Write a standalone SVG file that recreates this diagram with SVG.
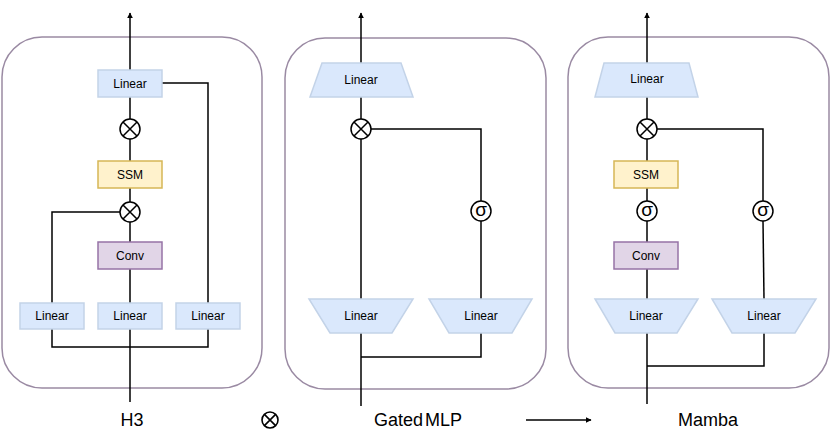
<svg xmlns="http://www.w3.org/2000/svg" width="830" height="444" viewBox="0 0 830 444">
<defs>
<marker id="arr" viewBox="0 0 10 10" refX="9" refY="5" markerWidth="6" markerHeight="6" orient="auto" markerUnits="userSpaceOnUse">
<path d="M0,0 L10,5 L0,10 z" fill="#000"/>
</marker>
<g id="otimes">
<circle cx="0" cy="0" r="10" fill="#fff" stroke="#000" stroke-width="1.5"/>
<path d="M-7,-7 L7,7 M-7,7 L7,-7" stroke="#000" stroke-width="1.5"/>
</g>
</defs>
<style>
.panel{fill:#fff;stroke:#9a8aa3;stroke-width:1.5}
.lin{fill:#dae8fc;stroke:#c3d3e8;stroke-width:1.5}
.ssm{fill:#fff2cc;stroke:#d6b656;stroke-width:1.5}
.conv{fill:#e1d5e7;stroke:#9673a6;stroke-width:1.5}
.t{font-family:"Liberation Sans",Arial,sans-serif;font-size:12px;fill:#000;text-anchor:middle;dominant-baseline:central}
.lbl{font-family:"Liberation Sans",Arial,sans-serif;font-size:18px;fill:#000;text-anchor:middle;dominant-baseline:central}
.sig{font-family:"Liberation Sans",Arial,sans-serif;font-size:19px;fill:#000;text-anchor:middle}
.c{fill:none;stroke:#000;stroke-width:1.5}
.sc{fill:#fff;stroke:#000;stroke-width:1.5}
</style>

<g id="panels">
<rect id="panel-h3" class="panel" x="2" y="37" width="260" height="351" rx="40"/>
<rect id="panel-gmlp" class="panel" x="285" y="38" width="261" height="351" rx="40"/>
<rect id="panel-mamba" class="panel" x="568" y="37" width="261" height="351" rx="40"/>
</g>

<g id="connectors">
<!-- H3 -->
<path class="c" d="M130,402 L130,329"/>
<path class="c" d="M52,329 L52,347 L208,347 L208,329"/>
<path class="c" d="M130,303 L130,269"/>
<path class="c" d="M130,242 L130,222"/>
<path class="c" d="M120,212 L52,212 L52,303"/>
<path class="c" d="M130,202 L130,188"/>
<path class="c" d="M130,161 L130,139"/>
<path class="c" d="M130,119 L130,97"/>
<path class="c" d="M162,83 L208,83 L208,303"/>
<path class="c" d="M130,70 L130,13" marker-end="url(#arr)"/>
<!-- Gated MLP -->
<path class="c" d="M361,406 L361,333"/>
<path class="c" d="M361,357 L481,357 L481,333"/>
<path class="c" d="M361,299 L361,139"/>
<path class="c" d="M481,299 L481,221"/>
<path class="c" d="M481,201 L481,129 L371,129"/>
<path class="c" d="M361,119 L361,97"/>
<path class="c" d="M361,63 L361,13" marker-end="url(#arr)"/>
<!-- Mamba -->
<path class="c" d="M647,404 L647,333"/>
<path class="c" d="M647,366 L764,366 L764,333"/>
<path class="c" d="M647,299 L647,269"/>
<path class="c" d="M647,242 L647,221"/>
<path class="c" d="M647,201 L647,188"/>
<path class="c" d="M647,161 L647,139"/>
<path class="c" d="M764,299 L763,221"/>
<path class="c" d="M763,201 L763,129 L657,129"/>
<path class="c" d="M647,119 L647,97"/>
<path class="c" d="M647,63 L647,13" marker-end="url(#arr)"/>
<!-- legend arrow -->
<path class="c" d="M526,420 L591,420" marker-end="url(#arr)"/>
</g>

<!-- H3 nodes -->
<g id="h3-linear-out"><rect class="lin" x="98" y="70" width="64" height="27"/><text class="t" x="130" y="83.5">Linear</text></g>
<g id="h3-mul1"><use href="#otimes" x="130" y="129"/></g>
<g id="h3-ssm"><rect class="ssm" x="98" y="161" width="64" height="27"/><text class="t" x="130" y="174.5">SSM</text></g>
<g id="h3-mul2"><use href="#otimes" x="130" y="212"/></g>
<g id="h3-conv"><rect class="conv" x="98" y="242" width="64" height="27"/><text class="t" x="130" y="255.5">Conv</text></g>
<g id="h3-linear-l"><rect class="lin" x="20" y="303" width="64" height="26"/><text class="t" x="52" y="316">Linear</text></g>
<g id="h3-linear-m"><rect class="lin" x="98" y="303" width="64" height="26"/><text class="t" x="130" y="316">Linear</text></g>
<g id="h3-linear-r"><rect class="lin" x="176" y="303" width="64" height="26"/><text class="t" x="208" y="316">Linear</text></g>

<!-- Gated MLP nodes -->
<g id="gmlp-linear-out"><path class="lin" d="M322,63 L401,63 L413,97 L310,97 z"/><text class="t" x="361" y="80">Linear</text></g>
<g id="gmlp-mul"><use href="#otimes" x="361" y="129"/></g>
<g id="gmlp-sigma"><circle class="sc" cx="481" cy="211" r="10"/><text class="sig" x="481" y="216">σ</text></g>
<g id="gmlp-linear-l"><path class="lin" d="M309,299 L413,299 L392,333 L330,333 z"/><text class="t" x="361" y="316">Linear</text></g>
<g id="gmlp-linear-r"><path class="lin" d="M429,299 L532,299 L512,333 L449,333 z"/><text class="t" x="481" y="316">Linear</text></g>

<!-- Mamba nodes -->
<g id="mamba-linear-out"><path class="lin" d="M604,63 L689,63 L698,97 L595,97 z"/><text class="t" x="647" y="79">Linear</text></g>
<g id="mamba-mul"><use href="#otimes" x="647" y="129"/></g>
<g id="mamba-ssm"><rect class="ssm" x="614" y="161" width="64" height="27"/><text class="t" x="646" y="174.5">SSM</text></g>
<g id="mamba-sigma-l"><circle class="sc" cx="647" cy="211" r="10"/><text class="sig" x="647" y="216">σ</text></g>
<g id="mamba-sigma-r"><circle class="sc" cx="763" cy="211" r="10"/><text class="sig" x="763" y="216">σ</text></g>
<g id="mamba-conv"><rect class="conv" x="614" y="242" width="64" height="27"/><text class="t" x="646" y="256">Conv</text></g>
<g id="mamba-linear-l"><path class="lin" d="M595,299 L698,299 L677,333 L615,333 z"/><text class="t" x="646" y="316">Linear</text></g>
<g id="mamba-linear-r"><path class="lin" d="M712,299 L816,299 L795,333 L732,333 z"/><text class="t" x="764" y="316">Linear</text></g>

<!-- labels / legend -->
<g id="legend">
<text class="lbl" x="132" y="420">H3</text>
<g transform="translate(270,420) scale(0.8)"><circle cx="0" cy="0" r="10" fill="#fff" stroke="#000" stroke-width="2"/><path d="M-7,-7 L7,7 M-7,7 L7,-7" stroke="#000" stroke-width="2"/></g>
<text class="lbl" x="418" y="420" word-spacing="-3">Gated MLP</text>
<text class="lbl" x="708" y="420">Mamba</text>
</g>
</svg>
